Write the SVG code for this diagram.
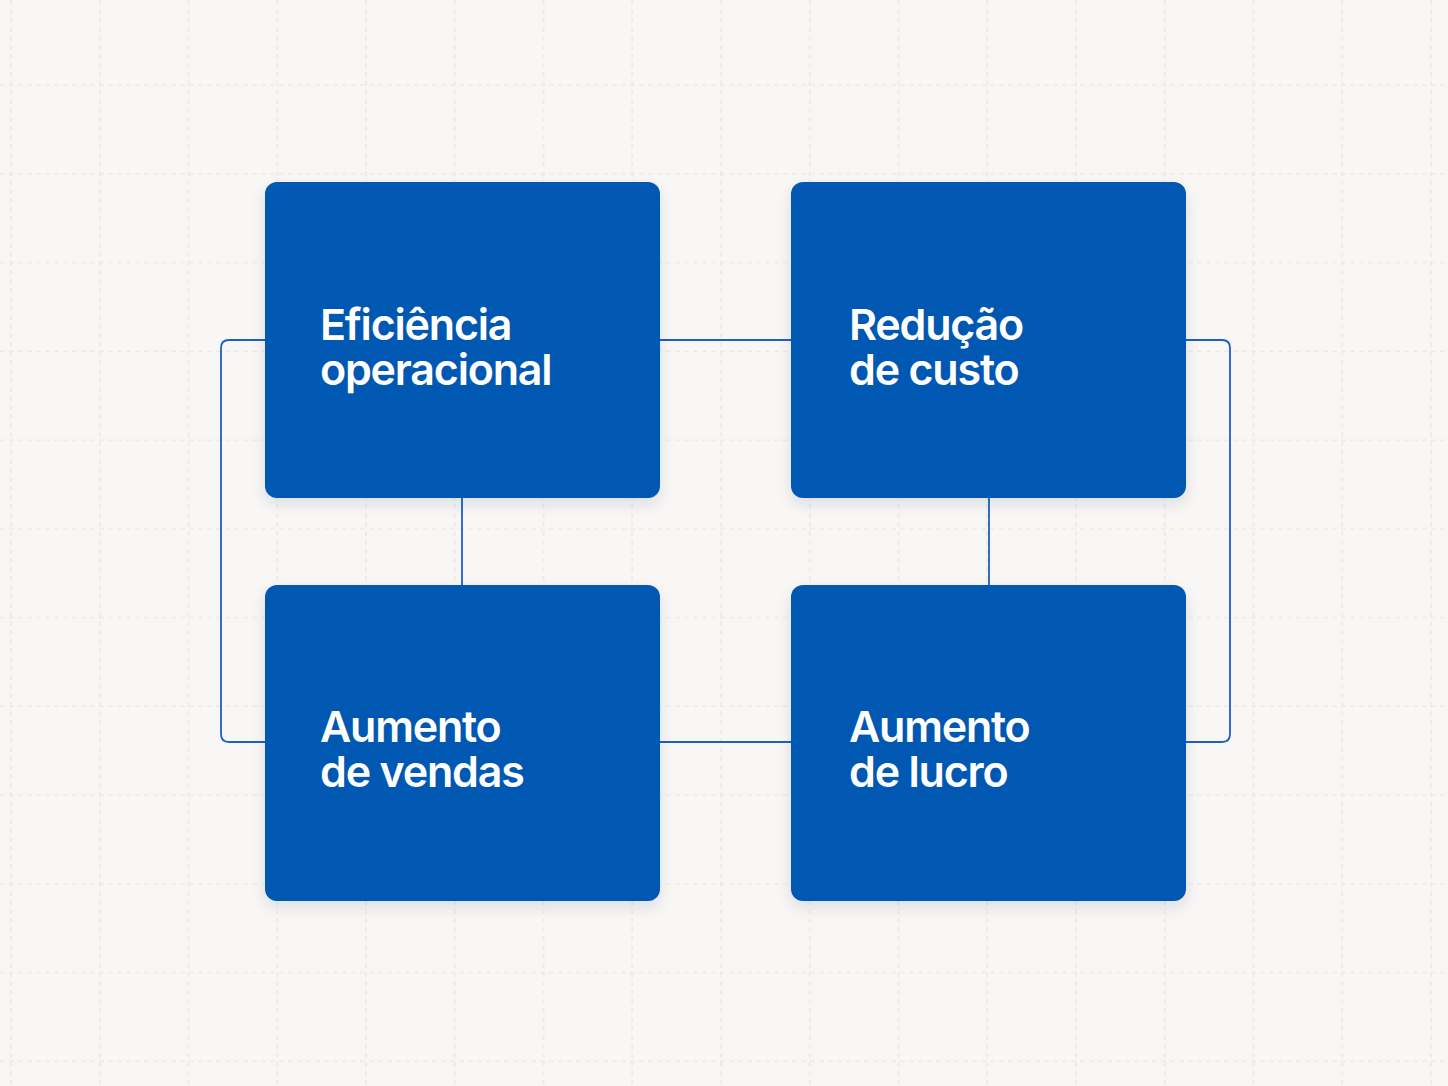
<svg xmlns="http://www.w3.org/2000/svg" width="1448" height="1086" viewBox="0 0 1448 1086">
<defs>
<pattern id="gridV" x="0" y="0" width="88.75" height="1086" patternUnits="userSpaceOnUse">
<line x1="11" y1="0" x2="11" y2="1086" stroke="#e7e5e2" stroke-width="1.2" stroke-dasharray="5 4"/>
</pattern>
<pattern id="gridH" x="0" y="0" width="1448" height="88.75" patternUnits="userSpaceOnUse">
<line x1="0" y1="85" x2="1448" y2="85" stroke="#e7e5e2" stroke-width="1.2" stroke-dasharray="5 4"/>
</pattern>
<filter id="sh" x="-10%" y="-10%" width="120%" height="130%">
<feDropShadow dx="0" dy="6" stdDeviation="7" flood-color="#1a2a40" flood-opacity="0.12"/>
</filter>
</defs>
<style>
.box{fill:#0058b2;filter:url(#sh);}
.lbl{font-family:Inter,"Liberation Sans",sans-serif;font-weight:600;font-size:43px;fill:#ffffff;letter-spacing:-1.2px;}
.con{fill:none;stroke:#1d5fbf;stroke-width:1.8;}
</style>
<rect width="1448" height="1086" fill="#f8f7f5"/>
<rect width="1448" height="1086" fill="url(#gridV)"/>
<rect width="1448" height="1086" fill="url(#gridH)"/>
<g id="connectors">
<line class="con" x1="660" y1="340" x2="791" y2="340"/>
<line class="con" x1="660" y1="742" x2="791" y2="742"/>
<line class="con" x1="462" y1="498" x2="462" y2="585"/>
<line class="con" x1="989" y1="498" x2="989" y2="585"/>
<path class="con" d="M265 340 H229 Q221 340 221 348 V734 Q221 742 229 742 H265"/>
<path class="con" d="M1186 340 H1222 Q1230 340 1230 348 V734 Q1230 742 1222 742 H1186"/>
</g>
<g id="node-eficiencia">
<rect class="box" x="265" y="182" width="395" height="316" rx="12"/>
<text class="lbl" x="320" y="340">Eficiência</text>
<text class="lbl" x="320" y="385">operacional</text>
</g>
<g id="node-reducao">
<rect class="box" x="791" y="182" width="395" height="316" rx="12"/>
<text class="lbl" x="849" y="340">Redução</text>
<text class="lbl" x="849" y="385">de custo</text>
</g>
<g id="node-vendas">
<rect class="box" x="265" y="585" width="395" height="316" rx="12"/>
<text class="lbl" x="320" y="742">Aumento</text>
<text class="lbl" x="320" y="787">de vendas</text>
</g>
<g id="node-lucro">
<rect class="box" x="791" y="585" width="395" height="316" rx="12"/>
<text class="lbl" x="849" y="742">Aumento</text>
<text class="lbl" x="849" y="787">de lucro</text>
</g>
</svg>
